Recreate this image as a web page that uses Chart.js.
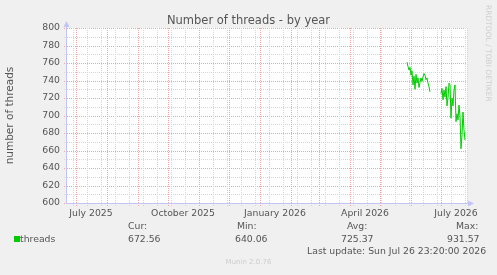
<!DOCTYPE html>
<html>
<head>
<meta charset="utf-8">
<script src="https://cdn.jsdelivr.net/npm/chart.js@4"></script>
<style>
  body { margin: 0; background: #f0f0f0; }
  #wrap { position: relative; width: 497px; height: 275px; overflow: hidden; font-family: "DejaVu Sans", sans-serif; color: #555; }
  #wrap canvas { position: absolute; left: 0; top: 0; }
  .t { position: absolute; white-space: nowrap; line-height: 1; }
</style>
</head>
<body>
<div id="wrap">
  <canvas id="chart" width="497" height="275"></canvas>
  <div class="t" style="left:0;width:497px;text-align:center;top:15px;font-size:11.5px;">Number of threads - by year</div>
  <div class="t" style="left:484px;top:5px;font-size:7.5px;color:#cfcfcf;writing-mode:vertical-rl;">RRDTOOL / TOBI OETIKER</div>
  <div class="t" style="left:14px;top:236px;width:6px;height:6px;background:#00cc00;"></div>
  <div class="t" style="left:20px;top:234px;font-size:9.3px;">threads</div>
  <div class="t" style="left:128px;top:221px;font-size:9.3px;">Cur:</div>
  <div class="t" style="left:128px;top:234px;font-size:9.3px;" id="cur"></div>
  <div class="t" style="left:237px;top:221px;font-size:9.3px;">Min:</div>
  <div class="t" style="left:235px;top:234px;font-size:9.3px;" id="min"></div>
  <div class="t" style="left:347px;top:221px;font-size:9.3px;">Avg:</div>
  <div class="t" style="left:341px;top:234px;font-size:9.3px;" id="avg"></div>
  <div class="t" style="left:456px;top:221px;font-size:9.3px;">Max:</div>
  <div class="t" style="left:447px;top:234px;font-size:9.3px;" id="max"></div>
  <div class="t" style="left:307px;top:246px;font-size:9.3px;">Last update: Sun Jul 26 23:20:00 2026</div>
  <div class="t" style="left:0;width:497px;text-align:center;top:259px;font-size:7px;color:#cccccc;">Munin 2.0.76</div>
</div>
<script>
// graph window: 400 days ending Jul 27 2026
const START = "2025-06-22";
const SPAN_DAYS = 400;

// daily averages (null = no data)
const dates = [
  "2026-05-28", "2026-05-29", "2026-05-30", "2026-05-31",
  "2026-06-01", "2026-06-02", "2026-06-03", "2026-06-04", "2026-06-05",
  "2026-06-06", "2026-06-07", "2026-06-08", "2026-06-09", "2026-06-10",
  "2026-06-11", "2026-06-12", "2026-06-13", "2026-06-14", "2026-06-15",
  "2026-06-16", "2026-06-17", "2026-06-18", "2026-06-19", "2026-06-20",
  "2026-06-21", "2026-06-22", "2026-06-23", "2026-06-24", "2026-06-25",
  "2026-06-26", "2026-06-27", "2026-06-28", "2026-06-29", "2026-06-30",
  "2026-07-01", "2026-07-02", "2026-07-03", "2026-07-04", "2026-07-05",
  "2026-07-06", "2026-07-07", "2026-07-08", "2026-07-09", "2026-07-10",
  "2026-07-11", "2026-07-12", "2026-07-13", "2026-07-14", "2026-07-15",
  "2026-07-16", "2026-07-17", "2026-07-18", "2026-07-19", "2026-07-20",
  "2026-07-21", "2026-07-22", "2026-07-23", "2026-07-24", "2026-07-25"
];
const threads = [
  761, 756, 752, 755,
  746, 751, 735, 745, 730,
  747, 737, 743, 732, 738,
  743, 739, 744, 748, 746,
  741, 743, 737, 733, 727,
  null, null, null, null, null,
  null, null, null, null, null,
  725, 731, 718, 729, 721,
  733, 711, 720, 737, 735,
  697, 720, 711, 729, 735,
  693, 702, 695, 712, 699,
  662, 678, 704, 683, 672
];

const stats = { cur: "672.56", min: "640.06", avg: "725.37", max: "931.57" };

const xLabelDates = ["2025-07-16", "2025-10-16", "2026-01-16", "2026-04-16", "2026-07-16"];
const xLabels = ["July 2025", "October 2025", "January 2026", "April 2026", "July 2026"];
const monthStarts = [
  "2025-07-01", "2025-08-01", "2025-09-01", "2025-10-01", "2025-11-01", "2025-12-01",
  "2026-01-01", "2026-02-01", "2026-03-01", "2026-04-01", "2026-05-01", "2026-06-01", "2026-07-01"
];
const yTicks = [600, 620, 640, 660, 680, 700, 720, 740, 760, 780, 800];

function dayOf(s) {
  return (Date.parse(s + "T00:00:00Z") - Date.parse(START + "T00:00:00Z")) / 86400000;
}

document.getElementById("cur").textContent = stats.cur;
document.getElementById("min").textContent = stats.min;
document.getElementById("avg").textContent = stats.avg;
document.getElementById("max").textContent = stats.max;

const MAJOR = "#eba6a6";
const MINOR = "#d6d6d6";
const AXIS = "#c4c4f4";

function dotted(ctx, x1, y1, x2, y2, color) {
  ctx.save();
  ctx.strokeStyle = color;
  ctx.lineWidth = 1;
  ctx.setLineDash([1, 1]);
  ctx.beginPath();
  ctx.moveTo(x1, y1);
  ctx.lineTo(x2, y2);
  ctx.stroke();
  ctx.restore();
}

const rrdGrid = {
  id: "rrdGrid",
  beforeDatasetsDraw(chart) {
    const { ctx, chartArea: a, scales } = chart;
    ctx.save();
    ctx.fillStyle = "#ffffff";
    ctx.fillRect(a.left, a.top, a.right - a.left, a.bottom - a.top);

    // horizontal lines every 10, red ones at the labels
    for (let v = 600; v <= 800; v += 10) {
      const y = Math.round(scales.y.getPixelForValue(v)) + 0.5;
      const c = v % 20 === 0 ? MAJOR : MINOR;
      dotted(ctx, a.left, y, a.right, y, c);
      dotted(ctx, a.left - 3, y, a.left, y, c);
    }
    // biweekly grey lines
    for (let d = 6; d <= SPAN_DAYS; d += 14) {
      const x = Math.round(scales.x.getPixelForValue(d)) + 0.5;
      dotted(ctx, x, a.top, x, a.bottom, MINOR);
      dotted(ctx, x, a.bottom, x, a.bottom + 3, MINOR);
    }
    dotted(ctx, Math.round(a.right) + 0.5, a.top, Math.round(a.right) + 0.5, a.bottom, MINOR);
    // month starts
    monthStarts.forEach(s => {
      const x = Math.round(scales.x.getPixelForValue(dayOf(s))) + 0.5;
      dotted(ctx, x, a.top, x, a.bottom, MAJOR);
      dotted(ctx, x, a.bottom, x, a.bottom + 3, MAJOR);
    });
    ctx.restore();
  },
  afterDatasetsDraw(chart) {
    const { ctx, chartArea: a } = chart;
    const x0 = Math.round(a.left) - 0.5;
    const y0 = Math.round(a.bottom) + 0.5;
    ctx.save();
    ctx.strokeStyle = AXIS;
    ctx.fillStyle = AXIS;
    ctx.lineWidth = 1;
    ctx.beginPath();
    ctx.moveTo(x0, a.top - 2);
    ctx.lineTo(x0, y0);
    ctx.lineTo(a.right + 2, y0);
    ctx.stroke();
    ctx.beginPath();
    ctx.moveTo(x0, a.top - 7);
    ctx.lineTo(x0 - 3, a.top - 1);
    ctx.lineTo(x0 + 3, a.top - 1);
    ctx.fill();
    ctx.beginPath();
    ctx.moveTo(a.right + 7, y0);
    ctx.lineTo(a.right + 1, y0 - 3);
    ctx.lineTo(a.right + 1, y0 + 3);
    ctx.fill();
    ctx.restore();
  }
};

Chart.defaults.font.family = "'DejaVu Sans', sans-serif";
Chart.defaults.color = "#555";

new Chart(document.getElementById("chart"), {
  type: "line",
  data: {
    datasets: [{
      label: "threads",
      data: dates.map((d, i) => ({ x: dayOf(d), y: threads[i] })),
      borderColor: "#00cc00",
      borderWidth: 1,
      pointRadius: 0,
      tension: 0,
      spanGaps: false
    }]
  },
  options: {
    responsive: false,
    animation: false,
    layout: { padding: { left: 0, right: 30, top: 28, bottom: 47 } },
    plugins: { legend: { display: false }, tooltip: { enabled: false }, title: { display: false } },
    scales: {
      x: {
        type: "linear",
        min: 0,
        max: SPAN_DAYS,
        grid: { display: false, drawTicks: false },
        border: { display: false },
        afterBuildTicks: s => { s.ticks = xLabelDates.map(d => ({ value: dayOf(d) })); },
        afterFit: s => { s.height = 25; },
        ticks: {
          autoSkip: false,
          maxRotation: 0,
          padding: 5,
          font: { size: 9.3 },
          color: "#555",
          callback: (v, i) => xLabels[i]
        }
      },
      y: {
        min: 600,
        max: 800,
        grid: { display: false, drawTicks: false },
        border: { display: false },
        afterBuildTicks: s => { s.ticks = yTicks.map(v => ({ value: v })); },
        afterFit: s => { s.width = 67; },
        ticks: { padding: 7, font: { size: 9.3 }, color: "#555" },
        title: {
          display: true,
          text: "number of threads",
          font: { size: 10.5 },
          color: "#555",
          padding: { top: 4, bottom: 0 }
        }
      }
    }
  },
  plugins: [rrdGrid]
});
</script>
</body>
</html>
